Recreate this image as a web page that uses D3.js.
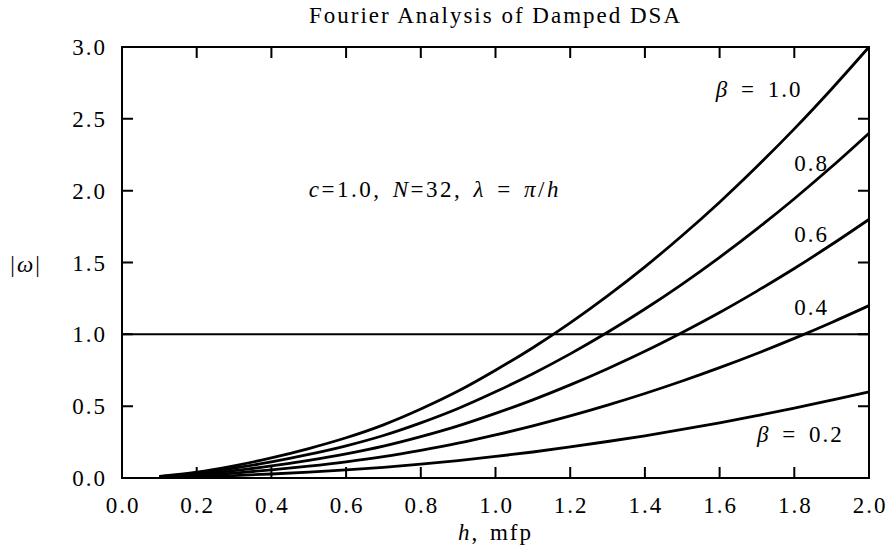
<!DOCTYPE html>
<html>
<head>
<meta charset="utf-8">
<script src="https://cdn.jsdelivr.net/npm/d3@7"></script>
<style>
  body { margin: 0; background: #fff; }
  text { font-family: "Liberation Serif", "Times New Roman", serif; fill: #000; font-size: 23px; }
</style>
</head>
<body>
<div id="chart"></div>
<script>
// h values (mfp)
const hValues = [0.1, 0.2, 0.3, 0.4, 0.5, 0.6, 0.7, 0.8, 0.9, 1.0, 1.1, 1.2, 1.3, 1.4, 1.5, 1.6, 1.7, 1.8, 1.9, 2.0];
// |omega| for each beta
const beta10 = [0.012, 0.04, 0.085, 0.14, 0.205, 0.28, 0.37, 0.48, 0.605, 0.75, 0.907, 1.08, 1.268, 1.47, 1.688, 1.92, 2.168, 2.43, 2.708, 3.0];
const beta08 = [0.010, 0.032, 0.068, 0.112, 0.164, 0.224, 0.296, 0.384, 0.484, 0.600, 0.726, 0.864, 1.014, 1.176, 1.350, 1.536, 1.734, 1.944, 2.166, 2.4];
const beta06 = [0.007, 0.024, 0.051, 0.084, 0.123, 0.168, 0.222, 0.288, 0.363, 0.450, 0.544, 0.648, 0.761, 0.882, 1.013, 1.152, 1.301, 1.458, 1.625, 1.8];
const beta04 = [0.005, 0.016, 0.034, 0.056, 0.082, 0.112, 0.148, 0.192, 0.242, 0.300, 0.363, 0.432, 0.507, 0.588, 0.675, 0.768, 0.867, 0.972, 1.083, 1.2];
const beta02 = [0.002, 0.008, 0.017, 0.028, 0.041, 0.056, 0.074, 0.096, 0.121, 0.150, 0.181, 0.216, 0.254, 0.294, 0.338, 0.384, 0.434, 0.486, 0.542, 0.6];
const series = [beta10, beta08, beta06, beta04, beta02];

const xTicks = [0.0, 0.2, 0.4, 0.6, 0.8, 1.0, 1.2, 1.4, 1.6, 1.8, 2.0];
const yTicks = [0.0, 0.5, 1.0, 1.5, 2.0, 2.5, 3.0];

// curve labels in data coordinates
const curveLabels = [
  { h: 1.59, w: 2.65, beta: true, text: "1.0" },
  { h: 1.80, w: 2.14, beta: false, text: "0.8" },
  { h: 1.80, w: 1.64, beta: false, text: "0.6" },
  { h: 1.80, w: 1.135, beta: false, text: "0.4" },
  { h: 1.70, w: 0.25, beta: true, text: "0.2" }
];

const W = 887, H = 548;
const margin = { top: 47, right: 18, bottom: 70, left: 122 };
const width = W - margin.left - margin.right;
const height = H - margin.top - margin.bottom;
const tickLen = 11;

const svg = d3.select("#chart").append("svg")
  .attr("width", W).attr("height", H);
const g = svg.append("g").attr("transform", `translate(${margin.left},${margin.top})`);

const x = d3.scaleLinear().domain([0, 2]).range([0, width]);
const y = d3.scaleLinear().domain([0, 3]).range([height, 0]);

// frame
g.append("rect")
  .attr("width", width).attr("height", height)
  .attr("fill", "none").attr("stroke", "#000").attr("stroke-width", 2);

// inward ticks, bottom/top
g.selectAll(".xt").data(xTicks.slice(1, -1)).enter().append("path")
  .attr("d", d => `M${x(d)},${height}v${-tickLen}M${x(d)},0v${tickLen}`)
  .attr("stroke", "#000").attr("stroke-width", 2);
// inward ticks, left/right
g.selectAll(".yt").data(yTicks.slice(1, -1)).enter().append("path")
  .attr("d", d => `M0,${y(d)}h${tickLen}M${width},${y(d)}h${-tickLen}`)
  .attr("stroke", "#000").attr("stroke-width", 2);

// tick labels
g.selectAll(".xl").data(xTicks).enter().append("text")
  .attr("x", d => x(d) + 1).attr("y", height + 35)
  .attr("text-anchor", "middle")
  .style("letter-spacing", "2px")
  .text(d => d.toFixed(1));
g.selectAll(".yl").data(yTicks).enter().append("text")
  .attr("x", -15).attr("y", d => y(d) + 8)
  .attr("text-anchor", "end")
  .style("letter-spacing", "2px")
  .text(d => d.toFixed(1));

// omega = 1 reference line
g.append("line")
  .attr("x1", x(0)).attr("x2", x(2))
  .attr("y1", y(1)).attr("y2", y(1))
  .attr("stroke", "#000").attr("stroke-width", 2);

// curves
const line = d3.line()
  .x((d, i) => x(hValues[i]))
  .y(d => y(d))
  .curve(d3.curveMonotoneX);
g.selectAll(".curve").data(series).enter().append("path")
  .attr("d", line)
  .attr("fill", "none").attr("stroke", "#000").attr("stroke-width", 2.8);

// curve labels
curveLabels.forEach(l => {
  const t = g.append("text")
    .attr("x", x(l.h)).attr("y", y(l.w))
    .style("letter-spacing", "2px").style("word-spacing", "4px");
  if (l.beta) {
    t.append("tspan").style("font-style", "italic").text("β");
    t.append("tspan").text(" = " + l.text);
  } else {
    t.text(l.text);
  }
});

// parameter note
const note = g.append("text")
  .attr("x", x(0.5)).attr("y", y(1.956))
  .style("letter-spacing", "2.5px").style("word-spacing", "3px");
note.append("tspan").style("font-style", "italic").text("c");
note.append("tspan").text("=1.0, ");
note.append("tspan").style("font-style", "italic").text("N");
note.append("tspan").text("=32, ");
note.append("tspan").style("font-style", "italic").text("λ");
note.append("tspan").text(" = ");
note.append("tspan").style("font-style", "italic").text("π");
note.append("tspan").text("/");
note.append("tspan").style("font-style", "italic").text("h");

// title
svg.append("text")
  .attr("x", margin.left + width / 2).attr("y", 23)
  .attr("text-anchor", "middle")
  .style("letter-spacing", "2px")
  .text("Fourier Analysis of Damped DSA");

// axis titles
const xl = svg.append("text")
  .attr("x", margin.left + width / 2).attr("y", 540)
  .attr("text-anchor", "middle")
  .style("letter-spacing", "2px").style("word-spacing", "3px");
xl.append("tspan").style("font-style", "italic").text("h");
xl.append("tspan").text(", mfp");

const yl = svg.append("text")
  .attr("x", 26).attr("y", 272)
  .attr("text-anchor", "middle")
  .style("letter-spacing", "2px");
yl.append("tspan").text("|");
yl.append("tspan").style("font-style", "italic").text("ω");
yl.append("tspan").text("|");
</script>
</body>
</html>
